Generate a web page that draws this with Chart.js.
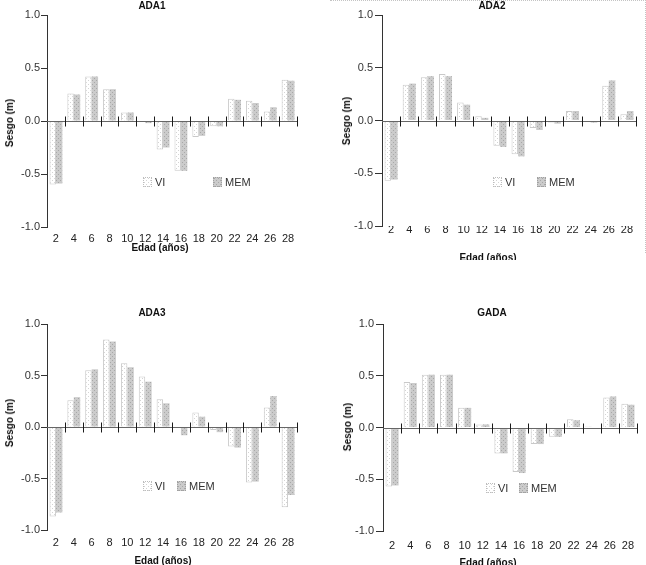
<!DOCTYPE html>
<html lang="es">
<head>
<meta charset="UTF-8">
<title>Sesgo por edad - ADA1, ADA2, ADA3, GADA</title>
<style>
  body{margin:0;background:#fff;width:646px;height:565px;overflow:hidden;position:relative;font-family:"Liberation Sans",Arial,sans-serif;color:#222;}
  .panel{position:absolute;overflow:hidden;}
  .panel canvas{position:absolute;}
  .txt{position:absolute;white-space:nowrap;font-size:10px;line-height:12px;}
  .b{font-weight:bold;color:#111;}
  .ytitle{transform:translate(-50%,-50%) rotate(-90deg);}
  .ctr{transform:translate(-50%,-50%);}
  .leg{position:absolute;font-size:11px;line-height:12px;color:#333;}
  .leg i{position:absolute;width:9px;height:10px;box-sizing:border-box;image-rendering:pixelated;}
  .frame{position:absolute;left:330px;top:0;width:315px;height:252px;border-top:1px dotted #c4c4c4;border-right:1px dotted #c4c4c4;}
</style>
</head>
<body>
<div class="frame"></div>

<div class="panel" style="left:0;top:0;width:320px;height:260px;">
  <canvas id="c1" width="310" height="260" style="left:0;top:0"></canvas>
  <div class="txt b ctr" style="left:152px;top:6px">ADA1</div>
  <div class="txt b ytitle" style="left:10px;top:123px">Sesgo (m)</div>
  <div class="txt b ctr" style="left:160px;top:248px">Edad (años)</div>
  <div class="leg" style="left:143px;top:177px"><i class="vi" style="left:0;top:0"></i><span style="position:absolute;left:12px;top:-1px">VI</span></div>
  <div class="leg" style="left:213px;top:177px"><i class="mem" style="left:0;top:0"></i><span style="position:absolute;left:12px;top:-1px">MEM</span></div>
</div>

<div class="panel" style="left:326px;top:0;width:320px;height:260px;">
  <canvas id="c2" width="311" height="260" style="left:9px;top:0"></canvas>
  <div class="txt b ctr" style="left:166px;top:6px">ADA2</div>
  <div class="txt b ytitle" style="left:21px;top:121px">Sesgo (m)</div>
  <div class="txt b ctr" style="left:162px;top:258px">Edad (años)</div>
  <div class="leg" style="left:167px;top:177px"><i class="vi" style="left:0;top:0"></i><span style="position:absolute;left:12px;top:-1px">VI</span></div>
  <div class="leg" style="left:211px;top:177px"><i class="mem" style="left:0;top:0"></i><span style="position:absolute;left:12px;top:-1px">MEM</span></div>
</div>

<div class="panel" style="left:0;top:300px;width:320px;height:265px;">
  <canvas id="c3" width="310" height="265" style="left:0;top:0"></canvas>
  <div class="txt b ctr" style="left:152px;top:13px">ADA3</div>
  <div class="txt b ytitle" style="left:10px;top:123px">Sesgo (m)</div>
  <div class="txt b ctr" style="left:163px;top:261px">Edad (años)</div>
  <div class="leg" style="left:143px;top:181px"><i class="vi" style="left:0;top:0"></i><span style="position:absolute;left:12px;top:-1px">VI</span></div>
  <div class="leg" style="left:177px;top:181px"><i class="mem" style="left:0;top:0"></i><span style="position:absolute;left:12px;top:-1px">MEM</span></div>
</div>

<div class="panel" style="left:326px;top:300px;width:320px;height:265px;">
  <canvas id="c4" width="311" height="265" style="left:9px;top:0"></canvas>
  <div class="txt b ctr" style="left:166px;top:13px">GADA</div>
  <div class="txt b ytitle" style="left:22px;top:127px">Sesgo (m)</div>
  <div class="txt b ctr" style="left:162px;top:263px">Edad (años)</div>
  <div class="leg" style="left:160px;top:183px"><i class="vi" style="left:0;top:0"></i><span style="position:absolute;left:12px;top:-1px">VI</span></div>
  <div class="leg" style="left:193px;top:183px"><i class="mem" style="left:0;top:0"></i><span style="position:absolute;left:12px;top:-1px">MEM</span></div>
</div>

<script src="https://cdn.jsdelivr.net/npm/chart.js"></script>
<script>
  // edades (categorias del eje x)
  const edades = ['2','4','6','8','10','12','14','16','18','20','22','24','26','28'];
  const yTicks = [-1.0, -0.5, 0.0, 0.5, 1.0];

  // sesgo (m)
  const ada1VI  = [-0.60, 0.26, 0.42, 0.30, 0.08, -0.01, -0.27, -0.47, -0.15, -0.05, 0.21, 0.19, 0.09, 0.39];
  const ada1MEM = [-0.59, 0.25, 0.42, 0.30, 0.08, -0.02, -0.25, -0.47, -0.14, -0.05, 0.20, 0.17, 0.13, 0.38];

  const ada2VI  = [-0.57, 0.34, 0.41, 0.44, 0.17, 0.04, -0.24, -0.32, -0.07, -0.02, 0.09, -0.01, 0.33, 0.06];
  const ada2MEM = [-0.56, 0.35, 0.42, 0.42, 0.15, 0.025, -0.25, -0.34, -0.09, -0.03, 0.09, -0.02, 0.38, 0.09];

  const ada3VI  = [-0.87, 0.26, 0.55, 0.85, 0.62, 0.49, 0.27, -0.01, 0.14, -0.03, -0.19, -0.54, 0.19, -0.78];
  const ada3MEM = [-0.83, 0.29, 0.56, 0.83, 0.58, 0.44, 0.23, -0.08, 0.10, -0.05, -0.20, -0.53, 0.30, -0.66];

  const gadaVI  = [-0.57, 0.44, 0.51, 0.51, 0.19, 0.03, -0.25, -0.43, -0.16, -0.09, 0.08, 0.01, 0.29, 0.23];
  const gadaMEM = [-0.56, 0.43, 0.51, 0.51, 0.19, 0.03, -0.25, -0.44, -0.16, -0.09, 0.07, 0.00, 0.30, 0.22];

  Chart.defaults.font.family = '"Liberation Sans", Arial, sans-serif';
  Chart.defaults.animation = false;

  // texturas punteadas de las barras
  function makeTile(bg, dot) {
    const c = document.createElement('canvas');
    c.width = 4; c.height = 4;
    const g = c.getContext('2d');
    g.fillStyle = bg; g.fillRect(0, 0, 4, 4);
    g.fillStyle = dot; g.fillRect(0, 0, 1, 1); g.fillRect(2, 2, 1, 1);
    return c;
  }
  const tileVI = makeTile('#ffffff', '#d4d4d4');
  const tileMEM = makeTile('#cbcbcb', '#a8a8a8');
  document.querySelectorAll('.leg i.vi').forEach(el => {
    el.style.backgroundImage = 'url(' + tileVI.toDataURL() + ')';
    el.style.border = '1px dotted #bdbdbd';
  });
  document.querySelectorAll('.leg i.mem').forEach(el => {
    el.style.backgroundImage = 'url(' + tileMEM.toDataURL() + ')';
    el.style.border = '1px dotted #a0a0a0';
  });

  // linea del cero con marcas cruzadas entre categorias
  const zeroAxis = {
    id: 'zeroAxis',
    afterDatasetsDraw(chart) {
      const {ctx, chartArea, scales: {x, y}} = chart;
      const y0 = Math.round(y.getPixelForValue(0)) + 0.5;
      const half = (x.getPixelForValue(1) - x.getPixelForValue(0)) / 2;
      ctx.save();
      ctx.lineWidth = 1;
      ctx.strokeStyle = '#666';
      ctx.beginPath();
      ctx.moveTo(chartArea.left, y0);
      ctx.lineTo(chartArea.right, y0);
      ctx.stroke();
      ctx.strokeStyle = '#1a1a1a';
      ctx.beginPath();
      for (let i = 0; i < edades.length; i++) {
        const px = Math.round(x.getPixelForValue(i) + half) + 0.5;
        ctx.moveTo(px, y0 - 5);
        ctx.lineTo(px, y0 + 5);
      }
      ctx.stroke();
      ctx.restore();
    }
  };

  function panel(id, vi, mem, o) {
    const canvas = document.getElementById(id);
    const ctx = canvas.getContext('2d');
    return new Chart(canvas, {
      type: 'bar',
      data: {
        labels: edades,
        datasets: [
          { label: 'VI', data: vi, backgroundColor: ctx.createPattern(tileVI, 'repeat'),
            borderColor: '#c9c9c9', borderWidth: 1 },
          { label: 'MEM', data: mem, backgroundColor: ctx.createPattern(tileMEM, 'repeat'),
            borderColor: '#b4b4b4', borderWidth: 0 }
        ]
      },
      options: {
        responsive: false,
        layout: { padding: { left: 0, top: o.top, right: o.right, bottom: o.bottom } },
        datasets: { bar: { categoryPercentage: 0.72, barPercentage: 1 } },
        plugins: { legend: { display: false }, tooltip: { enabled: false }, title: { display: false } },
        scales: {
          x: {
            offset: true,
            grid: { display: false, drawTicks: false, tickLength: 0 },
            border: { display: false },
            ticks: { color: '#222', font: { size: 11 }, padding: o.xPad, maxRotation: 0, autoSkip: false },
            afterFit: s => { s.height = 20; }
          },
          y: {
            min: -1, max: 1,
            afterBuildTicks: s => { s.ticks = yTicks.map(v => ({ value: v })); },
            grid: { drawOnChartArea: false, drawTicks: true, tickLength: o.tick, tickColor: '#333' },
            border: { display: true, color: '#333', width: 1 },
            ticks: { color: '#333', font: { size: 11 }, padding: o.yPad, callback: v => v.toFixed(1) },
            afterFit: s => { s.width = o.yw; }
          }
        }
      },
      plugins: [zeroAxis]
    });
  }

  panel('c1', ada1VI, ada1MEM, { top: 15, right: 13, bottom: 13, yw: 47, tick: 6, yPad: 1, xPad: 5 });
  panel('c2', ada2VI, ada2MEM, { top: 15, right: 10, bottom: 14, yw: 47, tick: 7, yPad: 2, xPad: -3 });
  panel('c3', ada3VI, ada3MEM, { top: 24, right: 13, bottom: 15, yw: 47, tick: 6, yPad: 1, xPad: 6 });
  panel('c4', gadaVI, gadaMEM, { top: 24, right: 9, bottom: 14, yw: 48, tick: 7, yPad: 2, xPad: 8 });
</script>
</body>
</html>
